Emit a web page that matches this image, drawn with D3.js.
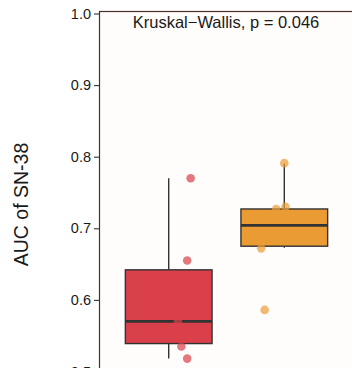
<!DOCTYPE html>
<html>
<head>
<meta charset="utf-8">
<script src="https://cdn.jsdelivr.net/npm/d3@7"></script>
<style>
  html, body { margin: 0; padding: 0; background: #ffffff; }
  svg { display: block; }
  text { font-family: "Liberation Sans", Arial, Helvetica, sans-serif; fill: #1a1a1a; }
</style>
</head>
<body>
<svg id="chart" width="352" height="368"></svg>
<script>
// Groups and their box statistics (AUC of SN-38)
const groups = ["Low", "High"];
const boxColors = ["#d9404a", "#eb9b33"];
const whiskerLow = [0.518, 0.673];
const q1 = [0.539, 0.675];
const median = [0.570, 0.704];
const q3 = [0.642, 0.727];
const whiskerHigh = [0.770, 0.790];

// Individual observations per group, with horizontal jitter (fraction of a step)
const lowValues = [0.770, 0.655, 0.570, 0.535, 0.518];
const lowJitter = [0.19, 0.16, 0.08, 0.11, 0.16];
const highValues = [0.791, 0.730, 0.727, 0.672, 0.586];
const highJitter = [0.00, 0.01, -0.07, -0.20, -0.17];

const yTicks = [0.5, 0.6, 0.7, 0.8, 0.9, 1.0];
const testLabel = "Kruskal\u2212Wallis, p = 0.046";
const yTitle = "AUC of SN-38";

const svg = d3.select("#chart");
const panel = { left: 99.5, right: 353.5, top: 11.5, bottom: 400 };

const y = d3.scaleLinear().domain([0.5, 1.0]).range([371.5, 13.5]);
const x = d3.scaleBand().domain(groups)
  .range([panel.left, panel.right])
  .paddingInner(0.25).paddingOuter(0.2237);
const step = x.step();
const cx = g => x(g) + x.bandwidth() / 2;

// Panel background and border
svg.append("rect")
  .attr("x", panel.left).attr("y", panel.top)
  .attr("width", panel.right - panel.left).attr("height", panel.bottom - panel.top)
  .attr("fill", "#fffcfc").attr("stroke", "#4a2e28").attr("stroke-width", 1.2);

// Y axis
const yAxis = d3.axisLeft(y).tickValues(yTicks).tickFormat(d3.format(".1f"))
  .tickSize(5.5).tickPadding(3);
const ax = svg.append("g").attr("transform", `translate(${panel.left},0)`).call(yAxis);
ax.select(".domain").remove();
ax.selectAll(".tick line").attr("stroke", "#333").attr("stroke-width", 1.1);
ax.selectAll(".tick text").attr("font-size", 14.5).attr("fill", "#1a1a1a")
  .style("font-family", "'Liberation Sans', Arial, sans-serif");

// Y title
svg.append("text")
  .attr("transform", `translate(27.5,${204.5}) rotate(-90)`)
  .attr("text-anchor", "middle")
  .attr("font-size", 19.5)
  .text(yTitle);

// Boxplots
const boxes = groups.map((g, i) => ({
  g, i, lo: whiskerLow[i], q1: q1[i], med: median[i], q3: q3[i], hi: whiskerHigh[i]
}));

const bx = svg.append("g");
boxes.forEach(b => {
  const c = cx(b.g);
  bx.append("line").attr("x1", c).attr("x2", c)
    .attr("y1", y(b.hi)).attr("y2", y(b.q3))
    .attr("stroke", "#333").attr("stroke-width", 1.4);
  bx.append("line").attr("x1", c).attr("x2", c)
    .attr("y1", y(b.q1)).attr("y2", y(b.lo))
    .attr("stroke", "#333").attr("stroke-width", 1.4);
  bx.append("rect")
    .attr("x", x(b.g)).attr("width", x.bandwidth())
    .attr("y", y(b.q3)).attr("height", y(b.q1) - y(b.q3))
    .attr("fill", boxColors[b.i]).attr("stroke", "#333").attr("stroke-width", 1.4);
  bx.append("line")
    .attr("x1", x(b.g)).attr("x2", x(b.g) + x.bandwidth())
    .attr("y1", y(b.med)).attr("y2", y(b.med))
    .attr("stroke", "#333").attr("stroke-width", 2.8);
});

// Jittered points, semi-transparent in the group colour
const pts = [];
lowValues.forEach((v, k) => pts.push({ g: groups[0], i: 0, v, j: lowJitter[k] }));
highValues.forEach((v, k) => pts.push({ g: groups[1], i: 1, v, j: highJitter[k] }));

svg.append("g").selectAll("circle").data(pts).join("circle")
  .attr("cx", d => cx(d.g) + d.j * step)
  .attr("cy", d => y(d.v))
  .attr("r", 4.3)
  .attr("fill", d => boxColors[d.i])
  .attr("fill-opacity", 0.7);

// Test annotation
svg.append("text")
  .attr("x", 226).attr("y", 27.5)
  .attr("text-anchor", "middle")
  .attr("font-size", 16.5)
  .text(testLabel);
</script>
</body>
</html>
